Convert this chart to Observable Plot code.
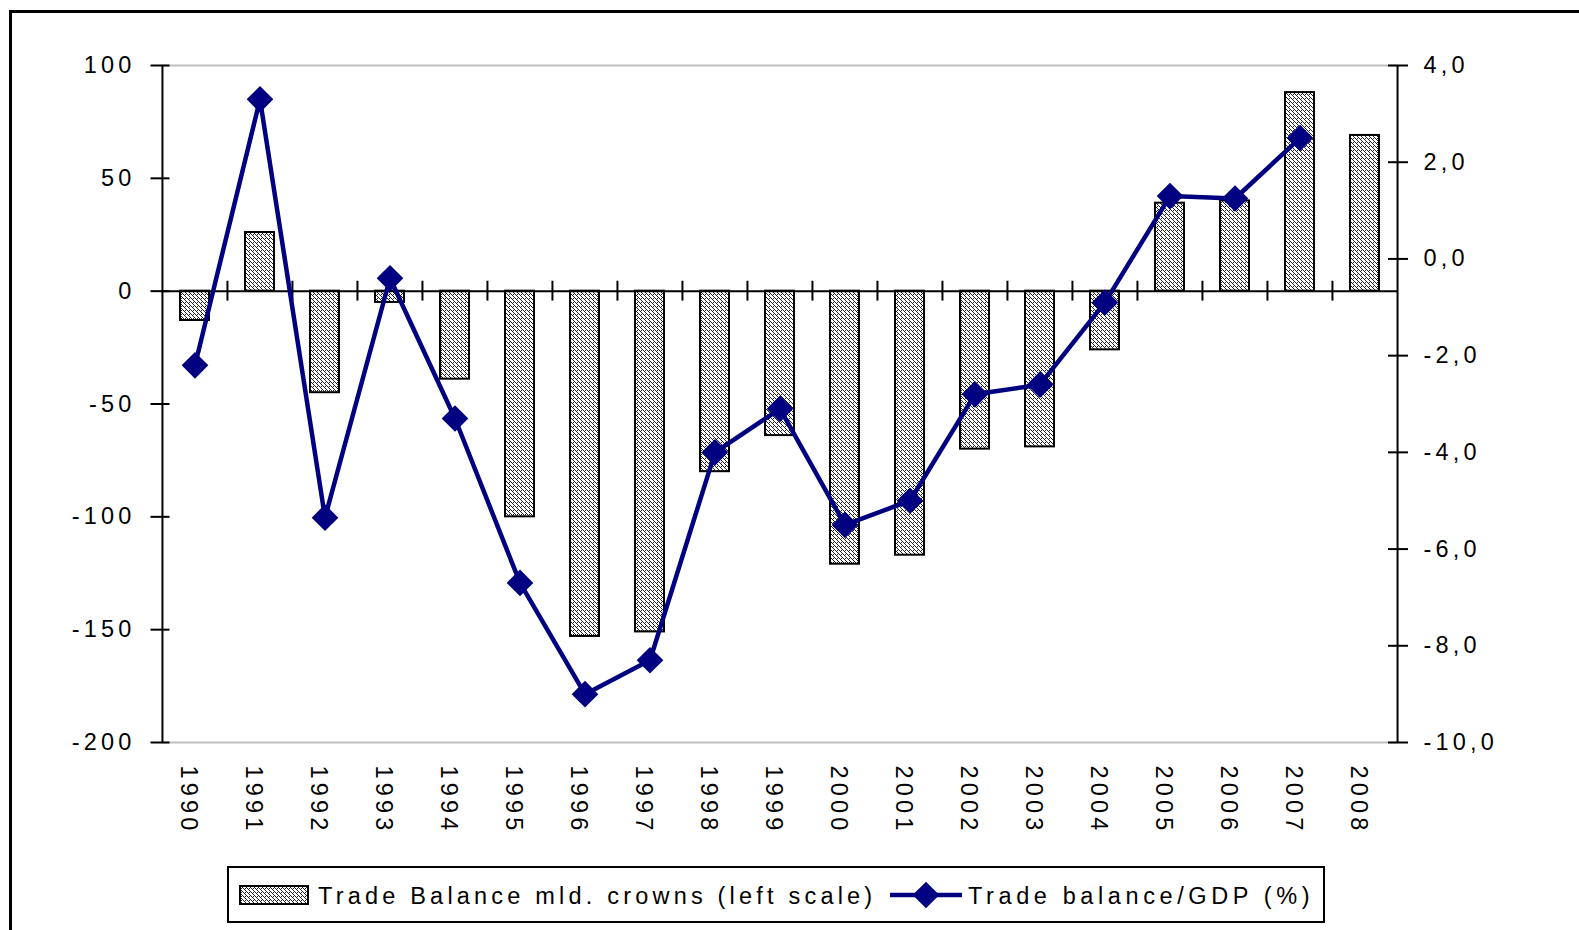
<!DOCTYPE html>
<html>
<head>
<meta charset="utf-8">
<script src="https://cdn.jsdelivr.net/npm/d3@7"></script>
<script src="https://cdn.jsdelivr.net/npm/@observablehq/plot@0.6"></script>
<style>
  html, body { margin: 0; padding: 0; background: #fff; overflow: hidden; }
  #wrap { position: relative; width: 1579px; height: 930px; overflow: hidden; font-family: "Liberation Sans", Arial, sans-serif; }
  #chart { position: absolute; left: 0; top: 0; }
  #legend { position: absolute; left: 0; top: 850px; }
  #frame { position: absolute; left: 9px; top: 10px; width: 1700px; height: 1000px; border: 3px solid #000; pointer-events: none; }
  svg text { letter-spacing: 4.2px; fill: #000; }
</style>
</head>
<body>
<div id="wrap">
  <div id="chart"></div>
  <div id="legend"></div>
  <div id="frame"></div>
</div>
<script>
// ---- data ----
const years = ["1990","1991","1992","1993","1994","1995","1996","1997","1998","1999","2000","2001","2002","2003","2004","2005","2006","2007","2008"];
const tradeBalance = [-13, 26, -45, -5, -39, -100, -153, -151, -80, -64, -121, -117, -70, -69, -26, 39, 40, 88, 69];
const gdpRatio = [-2.2, 3.3, -5.35, -0.4, -3.3, -6.7, -9.0, -8.3, -4.0, -3.1, -5.5, -5.0, -2.8, -2.6, -0.9, 1.3, 1.25, 2.5, null];
const leftTicks = [-200, -150, -100, -50, 0, 50, 100];
const rightTicks = [-10, -8, -6, -4, -2, 0, 2, 4];
const seriesNames = ["Trade Balance mld. crowns (left scale)", "Trade balance/GDP (%)"];

const leftDomain = [-200, 100];
const rightDomain = [-10, 4];
const toLeft = r => leftDomain[0] + (r - rightDomain[0]) * (leftDomain[1] - leftDomain[0]) / (rightDomain[1] - rightDomain[0]);
const fromLeft = l => rightDomain[0] + (l - leftDomain[0]) * (rightDomain[1] - rightDomain[0]) / (leftDomain[1] - leftDomain[0]);
const fmtRight = v => { const r = Math.round(v * 10) / 10; return (r === 0 ? 0 : r).toFixed(1).replace(".", ","); };

const data = years.map((y, i) => ({year: y, tb: tradeBalance[i], gdp: gdpRatio[i] == null ? NaN : toLeft(gdpRatio[i])}));

const W = 1579, H = 850, mL = 161, mR = 181, mT = 65, mB = 108;
const bw = (W - mL - mR) / years.length;
const navy = "#000080";
const font = "'Liberation Sans', Arial, sans-serif";
const fs = 23.5;

const chart = Plot.plot({
  width: W, height: H,
  marginLeft: mL, marginRight: mR, marginTop: mT, marginBottom: mB,
  style: {fontFamily: font, fontSize: fs + "px", color: "#000", background: "#fff"},
  x: {type: "band", domain: years, padding: 0, axis: null},
  y: {domain: leftDomain, axis: null},
  marks: [
    Plot.ruleY([leftDomain[1], leftDomain[0]], {stroke: "#c0c0c0", strokeWidth: 2}),
    Plot.barY(data, {x: "year", y: "tb", fill: "url(#tbpat)", stroke: "#000", strokeWidth: 2, insetLeft: 18, insetRight: 18}),
    Plot.ruleY([0], {stroke: "#000", strokeWidth: 2}),
    Plot.ruleX(years.slice(1), {x: d => d, dx: -bw / 2, y1: -4.4, y2: 4.4, stroke: "#000", strokeWidth: 2}),
    Plot.ruleX([years[0]], {x: d => d, dx: -bw / 2, stroke: "#000", strokeWidth: 2}),
    Plot.ruleX([years[years.length - 1]], {x: d => d, dx: bw / 2, stroke: "#000", strokeWidth: 2}),
    // left axis
    Plot.axisY({ticks: leftTicks, tickSize: 19, dx: 8.5, tickFormat: () => "", strokeWidth: 2, label: null}),
    Plot.axisY({ticks: leftTicks, tickSize: 0, tickPadding: 26, tickFormat: d => String(d), fontSize: fs, label: null}),
    // right axis
    Plot.axisY({anchor: "right", ticks: rightTicks.map(toLeft), tickSize: 20, dx: -11, tickFormat: () => "", strokeWidth: 2, label: null}),
    Plot.axisY({anchor: "right", ticks: rightTicks.map(toLeft), tickSize: 0, tickPadding: 25, tickFormat: d => fmtRight(fromLeft(d)), fontSize: fs, label: null}),
    // x axis labels
    Plot.axisX({domain: years, tickRotate: 90, tickSize: 0, tickPadding: 23, dx: -6, fontSize: fs, label: null}),
    // line + markers
    Plot.line(data, {x: "year", y: "gdp", stroke: navy, strokeWidth: 4.5}),
    Plot.dot(data, {x: "year", y: "gdp", symbol: "diamond2", r: 12, fill: navy, stroke: "none"})
  ]
});

// pattern for bars (wavy dotted texture)
const defs = d3.select(chart).insert("defs", ":first-child");
const pat = defs.append("pattern").attr("id", "tbpat").attr("patternUnits", "userSpaceOnUse").attr("width", 4).attr("height", 4);
pat.append("rect").attr("width", 4).attr("height", 4).attr("fill", "#fff");
[[1,0],[2,1],[1,2],[0,3],[3,2]].forEach(([x, y]) => {
  pat.append("rect").attr("x", x).attr("y", y).attr("width", 1).attr("height", 1).attr("fill", "#222");
});
document.getElementById("chart").appendChild(chart);

// legend
const lg = d3.select("#legend").append("svg").attr("width", W).attr("height", 80)
  .style("font-family", font).style("font-size", fs + "px");
lg.append("rect").attr("x", 228).attr("y", 17).attr("width", 1096).attr("height", 55)
  .attr("fill", "#fff").attr("stroke", "#000").attr("stroke-width", 2);
lg.append("rect").attr("x", 240).attr("y", 36).attr("width", 68).attr("height", 18)
  .attr("fill", "url(#tbpat)").attr("stroke", "#000").attr("stroke-width", 2);
lg.append("text").attr("x", 318).attr("y", 54).text(seriesNames[0]);
lg.append("line").attr("x1", 890).attr("x2", 962).attr("y1", 45).attr("y2", 45)
  .attr("stroke", navy).attr("stroke-width", 4.5);
lg.append("path").attr("transform", "translate(926,45)").attr("d", d3.symbol(d3.symbolDiamond2, Math.PI * 144)()).attr("fill", navy);
lg.append("text").attr("x", 968).attr("y", 54).text(seriesNames[1]).style("letter-spacing", "4.6px");
</script>
</body>
</html>
